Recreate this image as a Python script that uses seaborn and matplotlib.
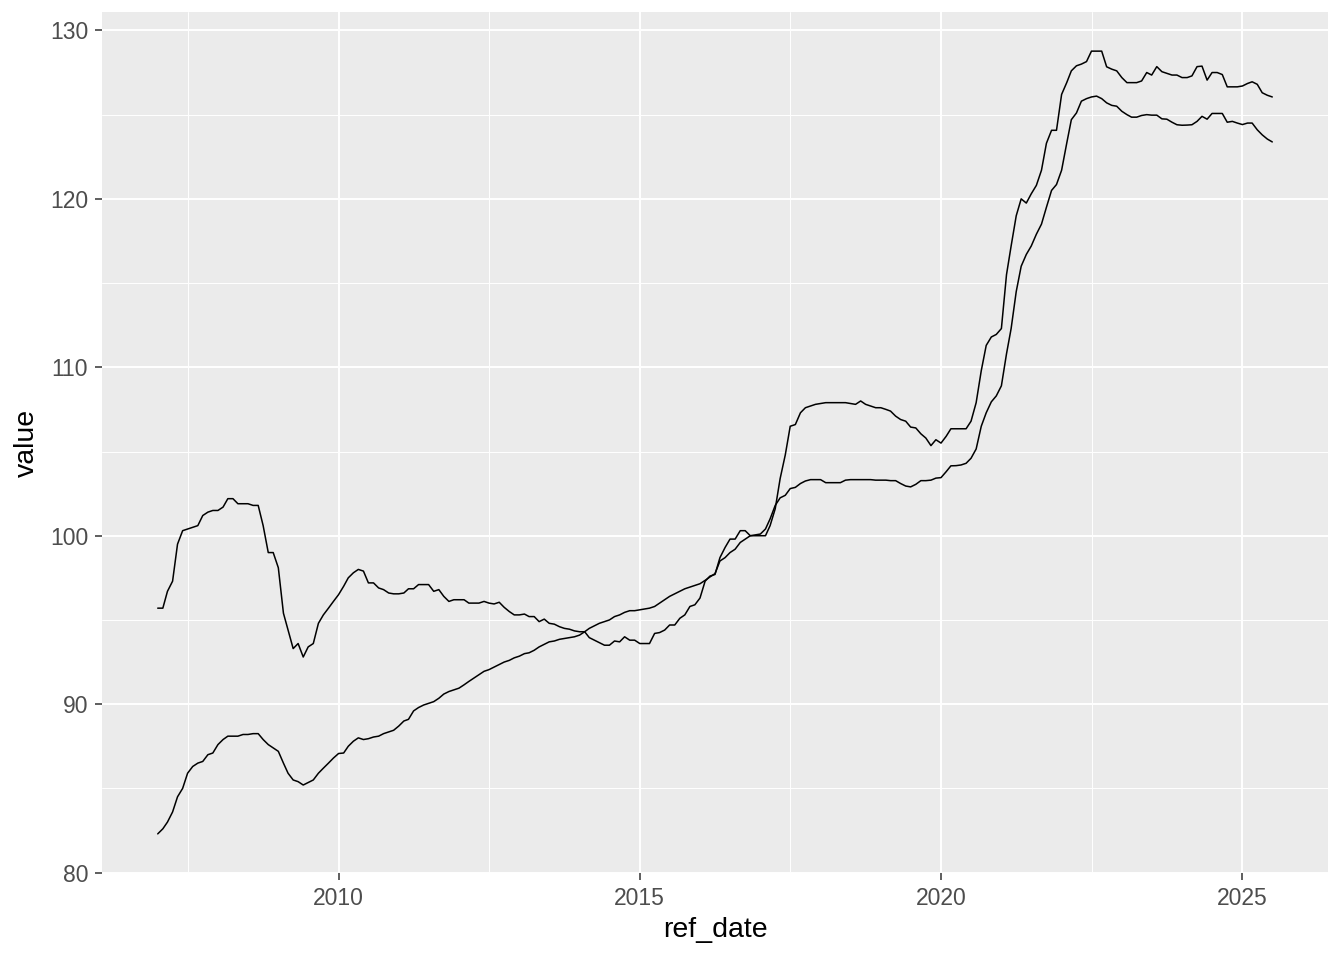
import numpy as np
import pandas as pd
import matplotlib
matplotlib.use("Agg")
import matplotlib.pyplot as plt
import matplotlib.dates as mdates
import seaborn as sns

# monthly values, Jan 2007 - Jul 2025
serie_a = [
    95.7, 95.7, 96.7, 97.3, 99.5, 100.3, 100.4, 100.5, 100.6, 101.2, 101.4, 101.5,  # 2007
    101.5, 101.7, 102.2, 102.2, 101.9, 101.9, 101.9, 101.8, 101.8, 100.6, 99.0, 99.0,  # 2008
    98.1, 95.4, 94.4, 93.3, 93.6, 92.8, 93.4, 93.6, 94.8, 95.3, 95.7, 96.1,  # 2009
    96.5, 97.0, 97.5, 97.8, 98.0, 97.9, 97.2, 97.2, 96.9, 96.8, 96.6, 96.55,  # 2010
    96.55, 96.6, 96.85, 96.85, 97.1, 97.1, 97.1, 96.7, 96.8, 96.4, 96.1, 96.2,  # 2011
    96.2, 96.2, 96.0, 96.0, 96.0, 96.1, 96.0, 95.95, 96.05, 95.75, 95.5, 95.3,  # 2012
    95.3, 95.35, 95.2, 95.2, 94.9, 95.05, 94.8, 94.75, 94.6, 94.5, 94.45, 94.35,  # 2013
    94.3, 94.3, 93.95, 93.8, 93.65, 93.5, 93.5, 93.75, 93.7, 94.0, 93.8, 93.8,  # 2014
    93.6, 93.6, 93.6, 94.2, 94.25, 94.4, 94.7, 94.7, 95.1, 95.3, 95.8, 95.9,  # 2015
    96.3, 97.3, 97.6, 97.7, 98.7, 99.3, 99.8, 99.8, 100.3, 100.3, 100.0, 100.0,  # 2016
    100.0, 100.0, 100.6, 101.6, 103.4, 104.8, 106.5, 106.6, 107.3, 107.6, 107.7, 107.8,  # 2017
    107.85, 107.9, 107.9, 107.9, 107.9, 107.9, 107.85, 107.8, 108.0, 107.8, 107.7, 107.6,  # 2018
    107.6, 107.5, 107.4, 107.1, 106.9, 106.8, 106.45, 106.4, 106.05, 105.8, 105.35, 105.7,  # 2019
    105.5, 105.9, 106.35, 106.35, 106.35, 106.35, 106.8, 107.9, 109.8, 111.3, 111.8, 111.95,  # 2020
    112.3, 115.5, 117.2, 119.0, 120.0, 119.75, 120.3, 120.8, 121.7, 123.3, 124.07, 124.07,  # 2021
    126.2, 126.9, 127.6, 127.9, 128.0, 128.15, 128.77, 128.77, 128.77, 127.84, 127.7, 127.6,  # 2022
    127.2, 126.9, 126.9, 126.9, 127.0, 127.5, 127.35, 127.85, 127.55, 127.45, 127.35, 127.35,  # 2023
    127.2, 127.2, 127.3, 127.85, 127.88, 127.05, 127.5, 127.5, 127.38, 126.65, 126.65, 126.65,  # 2024
    126.7, 126.85, 126.95, 126.8, 126.3, 126.15, 126.05,  # 2025
]

serie_b = [
    82.3, 82.6, 83.0, 83.6, 84.5, 85.0, 85.9, 86.3, 86.5, 86.6, 87.0, 87.1,  # 2007
    87.6, 87.9, 88.1, 88.1, 88.1, 88.2, 88.2, 88.25, 88.25, 87.9, 87.6, 87.4,  # 2008
    87.2, 86.5, 85.9, 85.5, 85.4, 85.2, 85.35, 85.5, 85.9, 86.2, 86.5, 86.8,  # 2009
    87.07, 87.1, 87.5, 87.8, 88.0, 87.9, 87.95, 88.05, 88.1, 88.25, 88.35, 88.45,  # 2010
    88.7, 89.0, 89.1, 89.6, 89.8, 89.95, 90.05, 90.15, 90.35, 90.6, 90.75, 90.85,  # 2011
    90.95, 91.15, 91.35, 91.55, 91.75, 91.95, 92.05, 92.2, 92.35, 92.5, 92.6, 92.75,  # 2012
    92.85, 93.0, 93.05, 93.2, 93.4, 93.55, 93.7, 93.75, 93.85, 93.9, 93.95, 94.0,  # 2013
    94.1, 94.3, 94.5, 94.65, 94.8, 94.9, 95.0, 95.2, 95.3, 95.45, 95.55, 95.55,  # 2014
    95.6, 95.65, 95.7, 95.8, 96.0, 96.2, 96.4, 96.55, 96.7, 96.85, 96.95, 97.05,  # 2015
    97.15, 97.35, 97.55, 97.75, 98.5, 98.7, 99.0, 99.2, 99.6, 99.8, 100.0, 100.05,  # 2016
    100.1, 100.4, 101.0, 101.8, 102.25, 102.4, 102.8, 102.87, 103.1, 103.25, 103.33, 103.33,  # 2017
    103.33, 103.15, 103.15, 103.15, 103.15, 103.3, 103.33, 103.33, 103.33, 103.33, 103.33, 103.3,  # 2018
    103.3, 103.3, 103.27, 103.27, 103.1, 102.95, 102.9, 103.05, 103.27, 103.27, 103.3, 103.42,  # 2019
    103.45, 103.8, 104.15, 104.16, 104.2, 104.3, 104.6, 105.15, 106.5, 107.3, 107.95, 108.3,  # 2020
    108.9, 110.8, 112.3, 114.5, 116.0, 116.7, 117.2, 117.9, 118.5, 119.5, 120.5, 120.85,  # 2021
    121.7, 123.3, 124.7, 125.1, 125.8, 125.95, 126.05, 126.1, 125.95, 125.7, 125.55, 125.5,  # 2022
    125.2, 125.0, 124.85, 124.85, 124.95, 125.0, 124.97, 124.97, 124.75, 124.73, 124.55, 124.4,  # 2023
    124.37, 124.38, 124.4, 124.6, 124.9, 124.73, 125.07, 125.07, 125.07, 124.55, 124.6, 124.5,  # 2024
    124.41, 124.5, 124.5, 124.1, 123.8, 123.55, 123.38,  # 2025
]

datas = pd.date_range("2007-01-01", periods=len(serie_a), freq="MS")

df = pd.concat([
    pd.DataFrame({"ref_date": datas, "value": serie_a, "serie": "a"}),
    pd.DataFrame({"ref_date": datas, "value": serie_b, "serie": "b"}),
])

# tema parecido com o theme_gray do ggplot
sns.set_theme(style="darkgrid", rc={
    "axes.facecolor": "#EBEBEB",
    "grid.color": "white",
})
plt.rcParams["font.family"] = ["Liberation Sans", "DejaVu Sans"]

fig = plt.figure(figsize=(13.44, 9.6), dpi=100)
ax = fig.add_axes([102 / 1344, 1 - 873 / 960, (1328 - 102) / 1344, (873 - 12) / 960])

sns.lineplot(data=df, x="ref_date", y="value", units="serie", estimator=None,
             color="black", linewidth=1.1, ax=ax)

# limites com expansao de 5% como no ggplot
xnum = mdates.date2num(datas)
xr = xnum.max() - xnum.min()
ax.set_xlim(xnum.min() - 0.05 * xr, xnum.max() + 0.05 * xr)
vals = np.array(serie_a + serie_b)
yr = vals.max() - vals.min()
ax.set_ylim(vals.min() - 0.05 * yr, vals.max() + 0.05 * yr)

ax.xaxis.set_major_locator(mdates.YearLocator(5))
ax.xaxis.set_major_formatter(mdates.DateFormatter("%Y"))
minor_x = pd.to_datetime(["2007-07-02", "2012-07-02", "2017-07-02", "2022-07-02"])
ax.xaxis.set_minor_locator(matplotlib.ticker.FixedLocator(mdates.date2num(minor_x)))
ax.set_yticks([80, 90, 100, 110, 120, 130])
ax.set_yticks([85, 95, 105, 115, 125], minor=True)

ax.grid(which="major", color="white", linewidth=1.4)
ax.grid(which="minor", color="white", linewidth=0.7)
for s in ax.spines.values():
    s.set_visible(False)

ax.tick_params(which="major", axis="both", length=5, width=1.1, color="#333333",
               labelsize=16.5, labelcolor="#4D4D4D", pad=5, bottom=True, left=True)
ax.tick_params(which="minor", length=0)

ax.set_xlabel("ref_date", fontsize=20.5, color="black", labelpad=5)
ax.set_ylabel("value", fontsize=20.5, color="black", labelpad=7)

fig.savefig("out.png", dpi=100)
